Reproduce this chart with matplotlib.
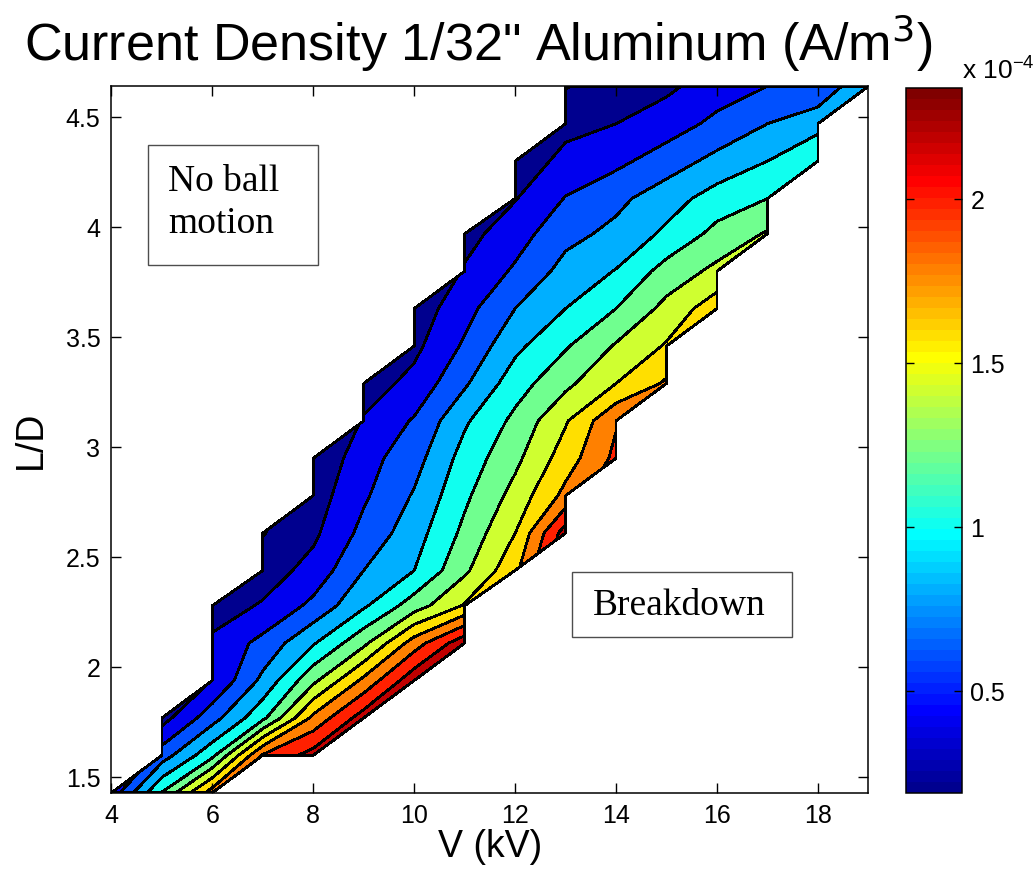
import numpy as np
import matplotlib.pyplot as plt
from matplotlib.colors import Normalize, ListedColormap
from matplotlib.cm import ScalarMappable
from matplotlib.patches import Rectangle
from matplotlib.ticker import FormatStrFormatter

plt.rcParams['font.family'] = ['Liberation Sans', 'DejaVu Sans']

# grid of the measurements
voltage_kv = [4, 5, 6, 7, 8, 9, 10, 11, 12, 13, 14, 15, 16, 17, 18, 19]
ld_ratio = [1.43, 1.60, 1.77, 1.94, 2.11, 2.28, 2.44, 2.61, 2.78, 2.95,
            3.12, 3.29, 3.46, 3.63, 3.80, 3.97, 4.13, 4.30, 4.47, 4.64]

# index of the lowest L/D that has a reading, for each voltage
first_row = [0, 0, 0, 1, 1, 2, 3, 4, 6, 7, 9, 11, 13, 15, 17, 19]

# current density (x 1e-4 A/m^3), from lowest L/D upwards
j_4kv = [0.48]
j_5kv = [1.21, 0.70, 0.32]
j_6kv = [1.90, 1.15, 0.72, 0.41, 0.44, 0.30]
j_7kv = [2.02, 1.15, 0.85, 0.66, 0.42, 0.30, 0.19]
j_8kv = [2.28, 1.85, 1.35, 0.98, 0.65, 0.47, 0.36, 0.30, 0.22]
j_9kv = [2.30, 1.85, 1.35, 0.97, 0.80, 0.66, 0.57, 0.52, 0.42, 0.30]
j_10kv = [2.34, 1.90, 1.30, 1.00, 0.91, 0.82, 0.72, 0.62, 0.46, 0.35, 0.28]
j_11kv = [2.34, 1.62, 1.36, 1.25, 1.16, 1.08, 0.97, 0.77, 0.63, 0.53, 0.42, 0.33]
j_12kv = [1.75, 1.60, 1.47, 1.35, 1.25, 1.11, 0.95, 0.80, 0.63, 0.51, 0.39, 0.25]
j_13kv = [2.30, 1.86, 1.70, 1.58, 1.35, 1.18, 1.00, 0.87, 0.74, 0.61, 0.47, 0.33, 0.19]
j_14kv = [2.05, 1.98, 1.60, 1.42, 1.20, 1.01, 0.85, 0.75, 0.55, 0.40, 0.30]
j_15kv = [1.83, 1.62, 1.46, 1.28, 1.04, 0.91, 0.70, 0.50, 0.36]
j_16kv = [1.72, 1.45, 1.26, 1.09, 0.86, 0.65, 0.50]
j_17kv = [1.42, 1.20, 1.00, 0.80, 0.60]
j_18kv = [1.18, 0.93, 0.64]
j_19kv = [0.98]

columns = [j_4kv, j_5kv, j_6kv, j_7kv, j_8kv, j_9kv, j_10kv, j_11kv,
           j_12kv, j_13kv, j_14kv, j_15kv, j_16kv, j_17kv, j_18kv, j_19kv]

contour_levels = [0.2, 0.4, 0.6, 0.8, 1.0, 1.2, 1.4, 1.6, 1.8, 2.0, 2.2]
c_min, c_max = 0.19, 2.34

Z = np.full((len(ld_ratio), len(voltage_kv)), np.nan)
for col, (start, vals) in enumerate(zip(first_row, columns)):
    Z[start:start + len(vals), col] = vals
Z = np.ma.masked_invalid(Z)

# 64-entry jet as MATLAB builds it
i = np.arange(1, 65)
red = np.clip(np.minimum((i - 24) / 16, (72 - i) / 16), 0, 1)
green = np.clip(np.minimum((i - 8) / 16, (56 - i) / 16), 0, 1)
blue = np.clip(np.minimum((i + 8) / 16, (40 - i) / 16), 0, 1)
cmap = ListedColormap(np.column_stack([red, green, blue]))

norm = Normalize(c_min, c_max)
band_floor = [c_min] + contour_levels
band_colors = [cmap(norm(v)) for v in band_floor]

fig = plt.figure(figsize=(10.34, 8.8), dpi=100)
ax = fig.add_axes([0.1078, 0.0992, 0.732, 0.8027])

cs = ax.contourf(voltage_kv, ld_ratio, Z, levels=[0.0] + contour_levels + [3.0],
                 colors=band_colors, corner_mask=True)
cs.set_edgecolor('k')
cs.set_linewidth(1.25)

ax.set_xlim(4, 19)
ax.set_ylim(1.43, 4.64)
ax.set_xticks(np.arange(4, 19, 2))
ax.set_yticks(np.arange(1.5, 4.6, 0.5))
ax.yaxis.set_major_formatter(FormatStrFormatter('%g'))
ax.tick_params(direction='in', top=True, right=True, length=7, width=1,
               labelsize=18, pad=8)
for s in ax.spines.values():
    s.set_linewidth(1.1)

ax.set_xlabel('V (kV)', fontsize=27, labelpad=1)
ax.set_ylabel('L/D', fontsize=27, labelpad=12)
ax.set_title('Current Density 1/32" Aluminum (A/m$^3$)', fontsize=37.5,
             x=0.484, pad=18)

# annotation boxes
ax.add_patch(Rectangle((0.048, 0.747), 0.225, 0.170, transform=ax.transAxes,
                       fc='white', ec='0.3', lw=1, zorder=5))
ax.text(0.0745, 0.835, 'No ball\nmotion', transform=ax.transAxes, fontsize=27,
        family='Liberation Serif', ha='left', va='center', linespacing=1.3, zorder=6)
ax.add_patch(Rectangle((0.608, 0.220), 0.291, 0.092, transform=ax.transAxes,
                       fc='white', ec='0.3', lw=1, zorder=5))
ax.text(0.636, 0.264, 'Breakdown', transform=ax.transAxes, fontsize=27,
        family='Liberation Serif', ha='left', va='center', zorder=6)

# colorbar
cax = fig.add_axes([906 / 1034, 1 - 793 / 880, 56 / 1034, 705 / 880])
cb = fig.colorbar(ScalarMappable(norm=norm, cmap=cmap), cax=cax,
                  ticks=[0.5, 1.0, 1.5, 2.0])
cb.ax.yaxis.set_major_formatter(FormatStrFormatter('%g'))
cb.ax.tick_params(direction='in', left=True, right=True, length=6, width=1,
                  labelsize=18, pad=6)
cb.outline.set_linewidth(1.1)
fig.text(962 / 1034, 1 - 79 / 880, r'x 10$^{\mathregular{-4}}$', fontsize=19)

fig.savefig('out.png', dpi=100)
